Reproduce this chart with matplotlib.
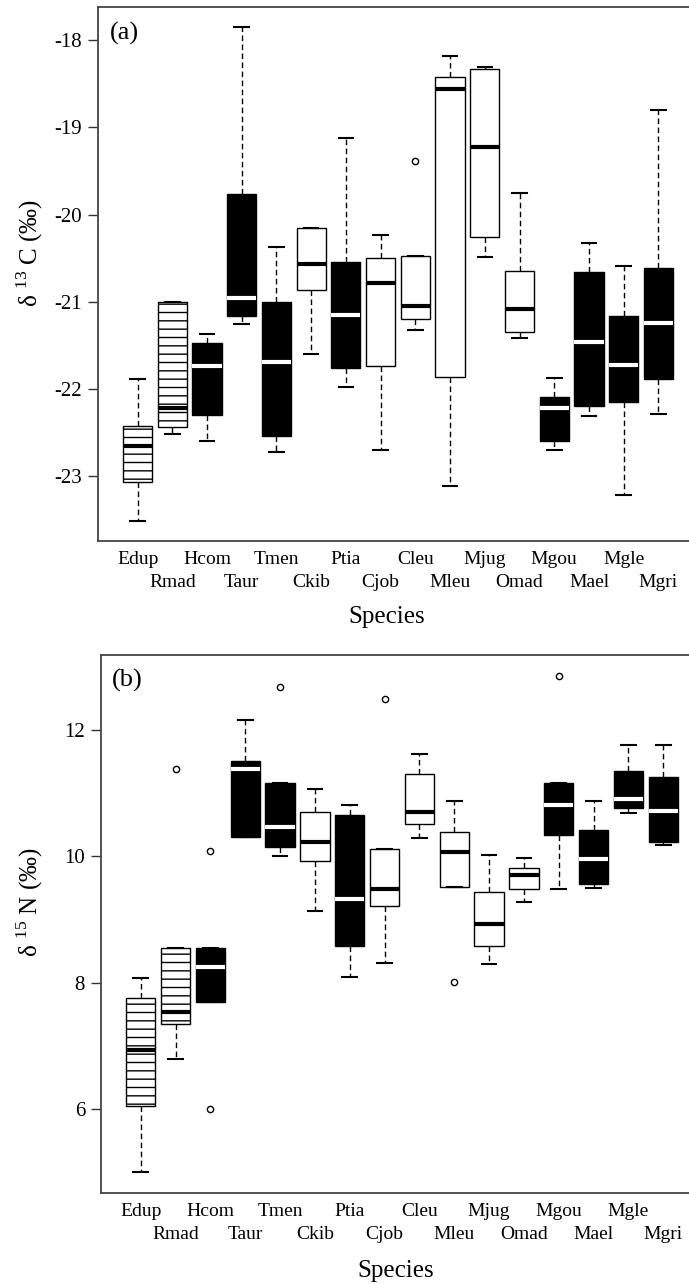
import numpy as np
import matplotlib.pyplot as plt

plt.rcParams['font.family'] = ['Liberation Serif', 'DejaVu Serif']
plt.rcParams['mathtext.fontset'] = 'custom'
plt.rcParams['mathtext.rm'] = 'Liberation Serif'
plt.rcParams['hatch.linewidth'] = 1.0

species = ['Edup', 'Rmad', 'Hcom', 'Taur', 'Tmen', 'Ckib', 'Ptia', 'Cjob',
           'Cleu', 'Mleu', 'Mjug', 'Omad', 'Mgou', 'Mael', 'Mgle', 'Mgri']
fills = ['hatch', 'hatch', 'black', 'black', 'black', 'white', 'black', 'white',
         'white', 'white', 'white', 'white', 'black', 'black', 'black', 'black']

# (a) delta 13C
c_lo = [-23.51, -22.51, -22.59, -21.25, -22.72, -21.60, -21.98, -22.70,
        -21.32, -23.11, -20.49, -21.41, -22.70, -22.31, -23.21, -22.28]
c_q1 = [-23.06, -22.43, -22.30, -21.16, -22.54, -20.86, -21.76, -21.74,
        -21.19, -21.86, -20.26, -21.35, -22.59, -22.19, -22.15, -21.88]
c_med = [-22.65, -22.22, -21.73, -20.95, -21.69, -20.57, -21.15, -20.78,
         -21.05, -18.56, -19.22, -21.08, -22.21, -21.46, -21.72, -21.24]
c_q3 = [-22.42, -21.00, -21.47, -19.76, -21.00, -20.15, -20.54, -20.50,
        -20.47, -18.42, -18.33, -20.65, -22.09, -20.66, -21.16, -20.61]
c_hi = [-21.88, -21.00, -21.37, -17.85, -20.37, -20.15, -19.12, -20.23,
        -20.47, -18.18, -18.31, -19.75, -21.87, -20.33, -20.59, -18.80]
c_out = [[], [], [], [], [], [], [], [],
         [-19.38], [], [], [], [], [], [], []]

# (b) delta 15N
n_lo = [4.99, 6.79, 7.69, 10.31, 10.00, 9.14, 8.08, 8.31,
        10.29, 9.52, 8.29, 9.28, 9.48, 9.50, 10.69, 10.18]
n_q1 = [6.05, 7.35, 7.69, 10.31, 10.14, 9.93, 8.58, 9.21,
        10.51, 9.52, 8.58, 9.48, 10.34, 9.56, 10.77, 10.22]
n_med = [6.93, 7.53, 8.24, 11.38, 10.47, 10.23, 9.32, 9.48,
         10.70, 10.07, 8.93, 9.71, 10.81, 9.95, 10.91, 10.72]
n_q3 = [7.75, 8.54, 8.54, 11.51, 11.16, 10.70, 10.65, 10.12,
        11.31, 10.38, 9.44, 9.82, 11.16, 10.42, 11.35, 11.26]
n_hi = [8.07, 8.54, 8.54, 12.16, 11.16, 11.07, 10.82, 10.12,
        11.62, 10.87, 10.02, 9.98, 11.16, 10.87, 11.77, 11.77]
n_out = [[], [11.38], [10.09, 6.0], [], [12.69], [], [], [12.50],
         [], [8.01], [], [], [12.86], [], [], []]


def draw(ax, lo, q1, med, q3, hi, out, yticks, ylim, tag, tagx, tagy):
    pos = np.arange(1, len(species) + 1)
    stats = [dict(whislo=a, q1=b, med=c, q3=d, whishi=e, fliers=f)
             for a, b, c, d, e, f in zip(lo, q1, med, q3, hi, out)]
    bp = ax.bxp(stats, positions=pos, widths=0.84, patch_artist=True,
                showfliers=True)
    for i, kind in enumerate(fills):
        box = bp['boxes'][i]
        box.set_edgecolor('black')
        box.set_linewidth(1.0)
        if kind == 'black':
            box.set_facecolor('black')
            bp['medians'][i].set_color('white')
        else:
            box.set_facecolor('white')
            bp['medians'][i].set_color('black')
            if kind == 'hatch':
                box.set_hatch('--')
        bp['medians'][i].set_linewidth(3)
        bp['medians'][i].set_solid_capstyle('butt')
    for w in bp['whiskers']:
        w.set_linestyle((0, (4, 2.5)))
        w.set_linewidth(1.0)
        w.set_color('black')
    for c in bp['caps']:
        c.set_linewidth(1.5)
        c.set_color('black')
    for f in bp['fliers']:
        f.set_marker('o')
        f.set_markersize(4.5)
        f.set_markerfacecolor('none')
        f.set_markeredgecolor('black')
        f.set_markeredgewidth(1.0)

    ax.set_xlim(-0.14, 17.14)
    ax.set_ylim(*ylim)
    ax.set_yticks(yticks)
    ax.set_yticklabels([str(t) for t in yticks])
    ax.set_xticks(pos[::2])
    ax.set_xticklabels(species[::2])
    ax.set_xticks(pos[1::2], minor=True)
    ax.set_xticklabels(species[1::2], minor=True)
    ax.tick_params(axis='x', which='major', length=0, pad=7, labelsize=14)
    ax.tick_params(axis='x', which='minor', length=0, pad=23.5, labelsize=14)
    ax.tick_params(axis='y', length=7.5, width=1, pad=4, labelsize=15,
                   color='#333333')
    for s in ['left', 'top', 'bottom']:
        ax.spines[s].set_color('#444444')
        ax.spines[s].set_linewidth(1.3)
    ax.spines['right'].set_visible(False)
    ax.text(tagx, tagy, tag, transform=ax.transAxes, fontsize=19,
            ha='left', va='center')


fig = plt.figure(figsize=(6.89, 12.84), dpi=100)
ax1 = fig.add_axes([98 / 689, 1 - 541 / 1284, 600 / 689, 534 / 1284])
ax2 = fig.add_axes([101 / 689, 1 - 1193 / 1284, 602 / 689, 538 / 1284])

draw(ax1, c_lo, c_q1, c_med, c_q3, c_hi, c_out,
     [-23, -22, -21, -20, -19, -18], (-23.74, -17.62), '(a)', 0.02, 0.951)
draw(ax2, n_lo, n_q1, n_med, n_q3, n_hi, n_out,
     [6, 8, 10, 12], (4.665, 13.19), '(b)', 0.018, 0.953)

fig.text(30 / 689, 1 - 253 / 1284, 'δ $^{\\mathrm{13}}$ C (‰)', rotation=90,
         ha='center', va='center', fontsize=18)
fig.text(30 / 689, 1 - 902 / 1284, 'δ $^{\\mathrm{15}}$ N (‰)', rotation=90,
         ha='center', va='center', fontsize=18)
fig.text(387 / 689, 1 - 617 / 1284, 'Species', ha='center', va='center',
         fontsize=18)
fig.text(396 / 689, 1 - 1271 / 1284, 'Species', ha='center', va='center',
         fontsize=18)

fig.savefig('out.png', dpi=100)
